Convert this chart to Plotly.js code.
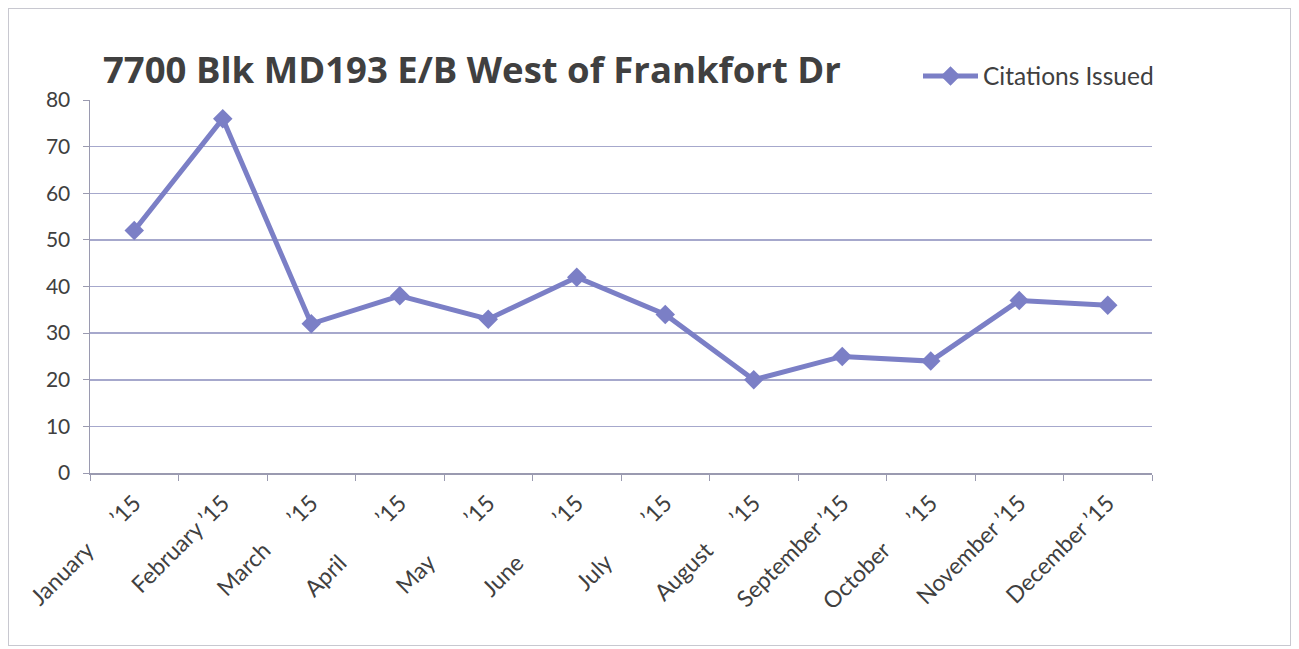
<!DOCTYPE html>
<html>
<head>
<meta charset="utf-8">
<script src="https://cdn.plot.ly/plotly-3.0.1.min.js"></script>
<style>
html,body{margin:0;padding:0;background:#fff;}
#frame{position:absolute;left:8px;top:8px;width:1281px;height:636px;border:1.5px solid #c8c8d0;}
#chart{position:absolute;left:0;top:0;width:1299px;height:649px;}
</style>
</head>
<body>
<div id="frame"></div>
<div id="chart"></div>
<script>
var NB = "\u00a0";
var months = ["January", "February", "March", "April", "May", "June", "July", "August", "September", "October", "November", "December"];
var gaps = [6, 1, 6, 9, 9, 9, 9, 6, 1, 6, 1, 1];
var yearSuffix = "\u201915";
var citations = [52, 76, 32, 38, 33, 42, 34, 20, 25, 24, 37, 36];
var yTicks = [0, 10, 20, 30, 40, 50, 60, 70, 80];

var labels = months.map(function (m, i) { return m + NB.repeat(gaps[i]) + yearSuffix; });

var trace = {
  type: "scatter",
  mode: "lines+markers",
  name: "Citations Issued",
  x: labels,
  y: citations,
  line: {color: "#7b7fc6", width: 5},
  marker: {symbol: "diamond", size: 15, color: "#7b7fc6"}
};

var layout = {
  width: 1299, height: 649,
  paper_bgcolor: "rgba(0,0,0,0)",
  plot_bgcolor: "rgba(0,0,0,0)",
  margin: {l: 90, r: 147, t: 100, b: 176, autoexpand: false},
  font: {family: "Lato, 'Open Sans', sans-serif", color: "#404040", size: 20},
  title: {
    text: "<b>7700 Blk MD193 E/B West of Frankfort Dr</b>",
    font: {size: 36.5, color: "#404040", family: "'Open Sans', Lato, sans-serif"},
    xref: "container", yref: "container",
    x: 103/1299, xanchor: "left",
    y: 1 - 70/649, yanchor: "middle"
  },
  showlegend: true,
  legend: {
    xref: "container", yref: "container",
    x: 918/1299, xanchor: "left",
    y: 1 - 76/649, yanchor: "middle",
    font: {size: 24.5, color: "#404040"},
    itemwidth: 55,
    bgcolor: "rgba(0,0,0,0)"
  },
  xaxis: {
    type: "category",
    range: [-0.5, 11.5],
    tickangle: -45,
    ticks: "outside",
    tickson: "boundaries",
    ticklen: 6,
    tickcolor: "#9a9ab0",
    showline: true,
    linecolor: "#9a9ab0",
    linewidth: 1.5,
    showgrid: false,
    tickfont: {size: 23, color: "#404040"},
    ticklabelstandoff: 6,
    fixedrange: true
  },
  yaxis: {
    range: [0, 80],
    tickvals: yTicks,
    ticks: "outside",
    ticklen: 6,
    tickcolor: "#9a9ab0",
    showline: true,
    linecolor: "#9a9ab0",
    linewidth: 1.5,
    showgrid: true,
    gridcolor: "#a6a8cc",
    gridwidth: 1.5,
    zeroline: false,
    tickfont: {size: 21, color: "#404040"},
    ticklabelstandoff: 8,
    fixedrange: true
  }
};

Plotly.newPlot("chart", [trace], layout, {displayModeBar: false, staticPlot: true});
</script>
</body>
</html>
